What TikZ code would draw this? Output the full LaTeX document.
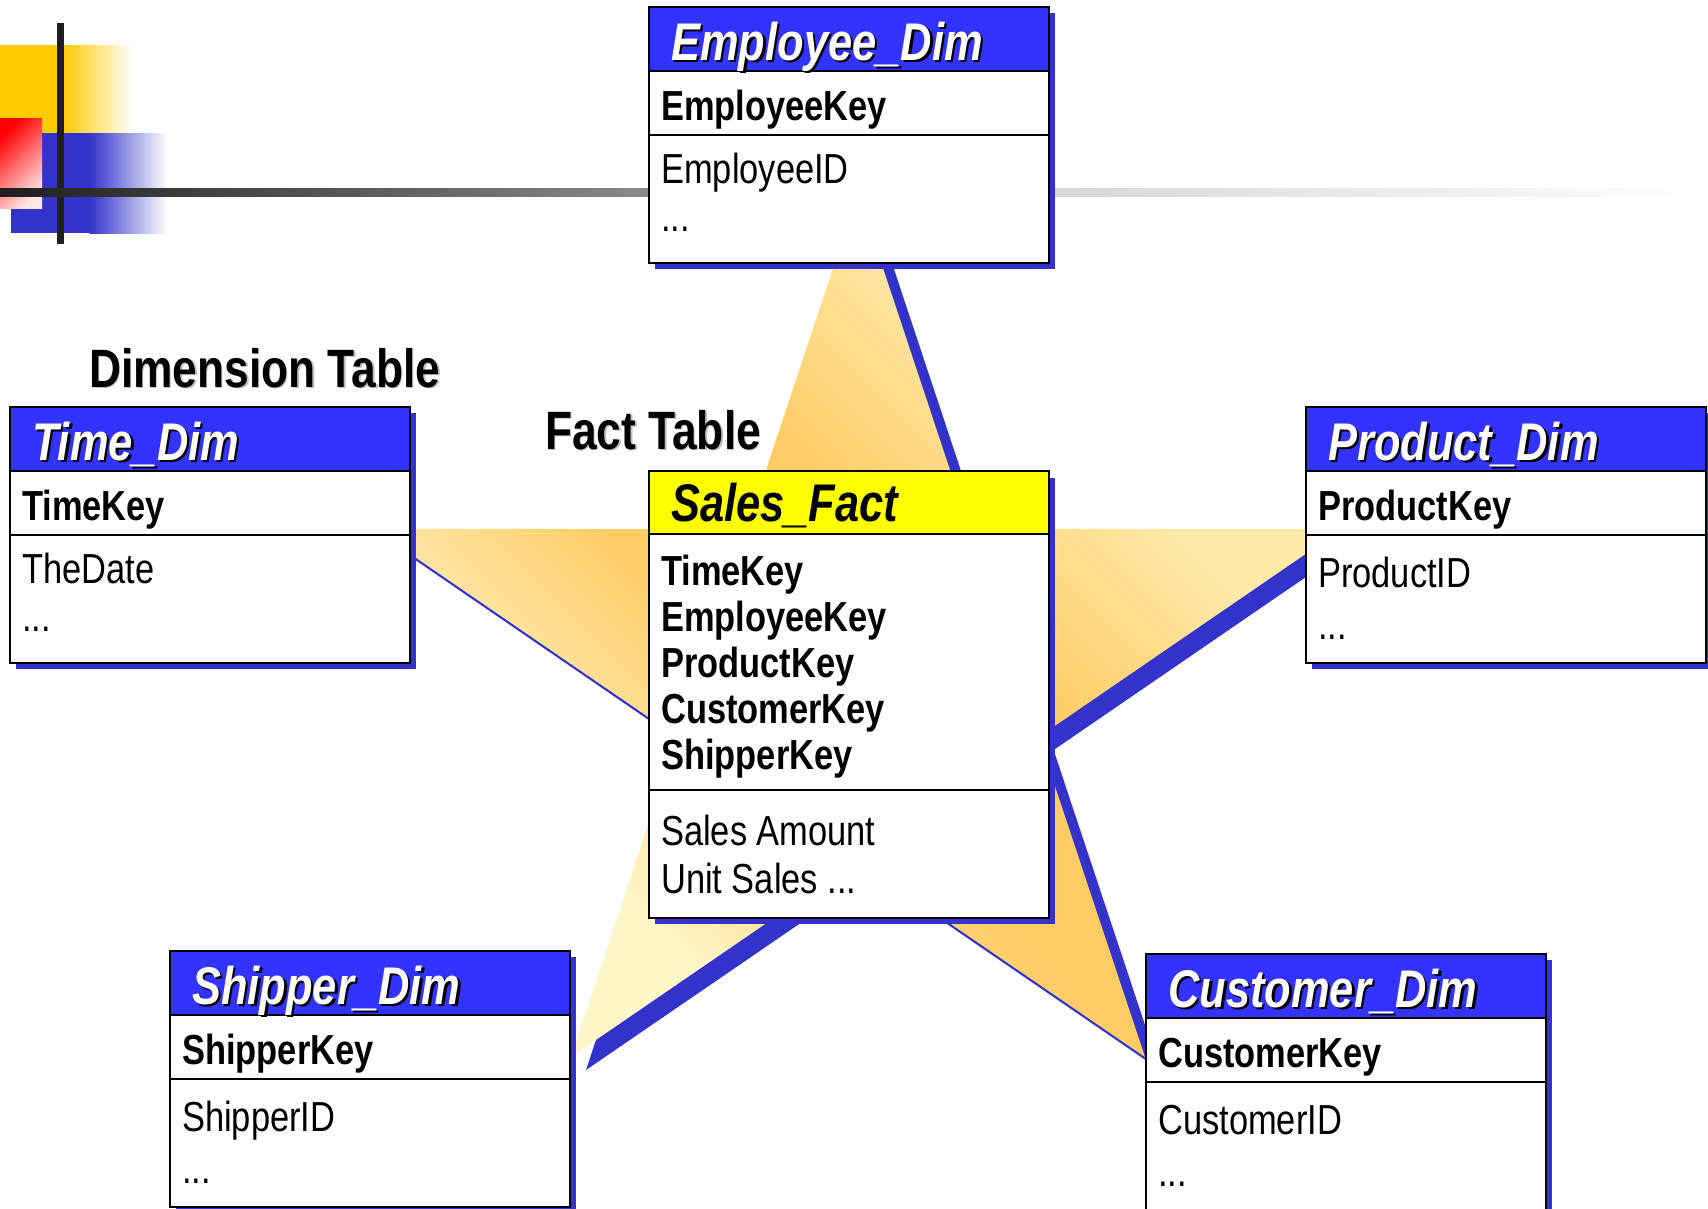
\documentclass[tikz,border=0pt]{standalone}
\usepackage{fontspec}
\setmainfont{Liberation Sans}[FakeStretch=0.82]

\definecolor{shadowblue}{HTML}{3333CC}
\definecolor{headblue}{HTML}{3333FF}
\definecolor{factyellow}{HTML}{FFFF00}
\definecolor{starpale}{HTML}{FFF6C8}
\definecolor{starorange}{HTML}{FFCC66}
\definecolor{starlight}{HTML}{FFEAA8}
\definecolor{decoyellow}{HTML}{FFCC00}
\definecolor{decored}{HTML}{FF0000}
\definecolor{decopink}{HTML}{FFE6E6}
\definecolor{ruledark}{HTML}{1E1E1E}
\definecolor{rulemid}{HTML}{8C8C8C}
\definecolor{rulelight}{HTML}{D6D6D6}

% pale -- orange -- light ramp for the star
\pgfdeclarehorizontalshading{starramp}{100bp}{%
  color(0bp)=(starpale); color(30bp)=(starpale);
  color(44bp)=(starorange); color(54bp)=(starorange);
  color(66bp)=(starlight); color(100bp)=(starlight)}

\tikzset{
  frame/.style={draw=black, line width=2.5bp},
  titletext/.style={anchor=base west, inner sep=0pt,
    font=\fontsize{53bp}{60bp}\selectfont\bfseries\itshape},
  keytext/.style={anchor=base west, inner sep=0pt,
    font=\fontsize{42bp}{50bp}\selectfont\bfseries},
  attrtext/.style={anchor=base west, inner sep=0pt,
    font=\fontsize{42bp}{50bp}\selectfont},
  labeltext/.style={anchor=base west, inner sep=0pt,
    font=\fontsize{54bp}{60bp}\selectfont\bfseries},
}

% dimension table: #1 name, #2 left, #3 top, #4 title, #5 key, #6 attribute,
% #7 extra drop of the attribute lines
\newcommand\dimtable[7]{%
  \fill[shadowblue] (#2+6,#3+6) rectangle (#2+406,#3+262);
  \filldraw[frame, fill=headblue] (#2,#3) rectangle (#2+400,#3+64);
  \filldraw[frame, fill=white] (#2,#3+64) rectangle (#2+400,#3+128);
  \filldraw[frame, fill=white] (#2,#3+128) rectangle (#2+400,#3+256);
  \node[titletext, text=black] (#1-titleshadow) at (#2+24.5,#3+55.5) {#4};
  \node[titletext, text=white] (#1-title) at (#2+22,#3+53) {#4};
  \node[keytext] (#1-key) at (#2+12,#3+113) {#5};
  \node[attrtext] (#1-attr) at (#2+12,#3+176+#7) {#6};
  \node[attrtext] (#1-more) at (#2+12,#3+224+2*#7) {...};
}

\begin{document}
\begin{tikzpicture}[x=1bp, y=-1bp]
\useasboundingbox (0,0) rectangle (1708,1208);

% corner ornament
\fill[decoyellow] (0,45) rectangle (63,133);
\shade[left color=decoyellow, right color=white] (62.5,45) rectangle (133,133);
\fill[shadowblue] (11,133) rectangle (90,233);
\shade[left color=shadowblue, right color=white] (89.5,133) rectangle (167,233);
\shade[left color=decored, right color=decopink, shading angle=45] (0,118) rectangle (42,208);
\fill[ruledark] (57,23) rectangle (64,244);

% title rule
\shade[left color=ruledark, right color=rulemid] (0,188) rectangle (660,196);
\shade[left color=rulelight, right color=white] (1040,188) rectangle (1700,196);

% star: drop shadow, then the shaded star
\begin{scope}[shift={(15,13)}]
\fill[shadowblue] (858,193) -- (969.6,529) -- (1342,529) -- (1038.6,737)
  -- (1145,1057) -- (858,860.4) -- (571,1057) -- (677.4,737)
  -- (374,529) -- (746.4,529) -- cycle;
\end{scope}
\shade[shading=starramp, shading angle=45]
  (858,193) -- (969.6,529) -- (1342,529) -- (1038.6,737)
  -- (1145,1057) -- (858,860.4) -- (571,1057) -- (677.4,737)
  -- (374,529) -- (746.4,529) -- cycle;

% captions
\node[labeltext, text=black!25] (dimlabel-s) at (90.5,388.5) {Dimension Table};
\node[labeltext] (dimlabel) at (89,387) {Dimension Table};
\node[labeltext, text=black!25] (factlabel-s) at (546.5,450.5) {Fact Table};
\node[labeltext] (factlabel) at (545,449) {Fact Table};

% dimension tables
\dimtable{emp}{649}{7}{Employee\_Dim}{EmployeeKey}{EmployeeID}{0}
\dimtable{time}{10}{407}{Time\_Dim}{TimeKey}{TheDate}{0}
\dimtable{prod}{1306}{407}{Product\_Dim}{ProductKey}{ProductID}{4}
\dimtable{ship}{170}{951}{Shipper\_Dim}{ShipperKey}{ShipperID}{4}
\dimtable{cust}{1146}{954}{Customer\_Dim}{CustomerKey}{CustomerID}{4}

% fact table
\fill[shadowblue] (655,478) rectangle (1055,924);
\filldraw[frame, fill=factyellow] (649,471) rectangle (1049,534);
\filldraw[frame, fill=white] (649,534) rectangle (1049,790);
\filldraw[frame, fill=white] (649,790) rectangle (1049,918);
\node[titletext] (fact-title) at (671,521) {Sales\_Fact};
\node[keytext] (fact-k1) at (661,585) {TimeKey};
\node[keytext] (fact-k2) at (661,631) {EmployeeKey};
\node[keytext] (fact-k3) at (661,677) {ProductKey};
\node[keytext] (fact-k4) at (661,723) {CustomerKey};
\node[keytext] (fact-k5) at (661,769) {ShipperKey};
\node[attrtext] (fact-a1) at (661,845) {Sales Amount};
\node[attrtext] (fact-a2) at (661,893) {Unit Sales ...};
\end{tikzpicture}
\end{document}
